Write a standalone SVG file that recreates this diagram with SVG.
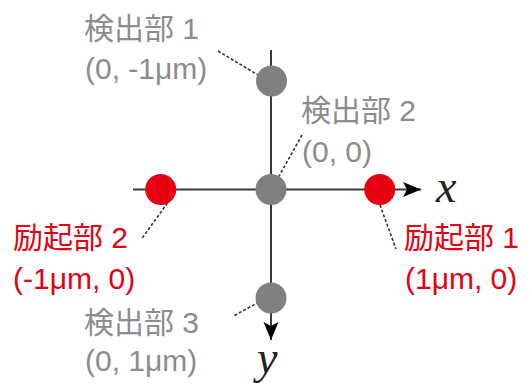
<svg xmlns="http://www.w3.org/2000/svg" width="529" height="383" viewBox="0 0 529 383">
<defs>
<style>
.axis{stroke:#3a3a3a;stroke-width:2;fill:none}
.lead{stroke:#333;stroke-width:1.6;stroke-dasharray:3 2;fill:none}
.det{fill:#808080}
.exc{fill:#e60012}
.tg{font-family:"Liberation Sans","Noto Sans CJK JP",sans-serif;font-size:30px;fill:#8c8c8c}
.tr{font-family:"Liberation Sans","Noto Sans CJK JP",sans-serif;font-size:30px;fill:#e60012}
.ax{font-family:"Liberation Serif",serif;font-style:italic;font-size:46px;fill:#222}
</style>
<marker id="arr" markerUnits="userSpaceOnUse" markerWidth="20" markerHeight="16" viewBox="0 0 20 16" refX="18" refY="8" orient="auto">
<path d="M0,0.5 L18,8 L0,15.5 L4,8 z" fill="#000"/>
</marker>
</defs>
<g id="connectors">
<line class="axis" x1="133" y1="189.5" x2="421" y2="189.5" marker-end="url(#arr)"/>
<line class="axis" x1="271" y1="50" x2="271" y2="340" marker-end="url(#arr)"/>
<line class="lead" x1="218" y1="51" x2="258" y2="75"/>
<line class="lead" x1="302" y1="135" x2="278" y2="178"/>
<line class="lead" x1="167.5" y1="203" x2="141.5" y2="239"/>
<line class="lead" x1="380" y1="205" x2="396" y2="249"/>
<line class="lead" x1="259" y1="302" x2="233.5" y2="316"/>
</g>
<g id="axis-x"><text class="ax" x="436" y="202">x</text></g>
<g id="axis-y"><text class="ax" x="257" y="373">y</text></g>
<g id="det1">
<circle class="det" cx="271.5" cy="81" r="15.5"/>
<text class="tg" x="84" y="39">検出部 1</text>
<text class="tg" x="85" y="79">(0, -1μm)</text>
</g>
<g id="det2">
<circle class="det" cx="271" cy="189.5" r="15.5"/>
<text class="tg" x="301" y="121">検出部 2</text>
<text class="tg" x="302" y="162">(0, 0)</text>
</g>
<g id="det3">
<circle class="det" cx="271" cy="298" r="15.5"/>
<text class="tg" x="84" y="333">検出部 3</text>
<text class="tg" x="85" y="371">(0, 1μm)</text>
</g>
<g id="exc2">
<circle class="exc" cx="160.7" cy="189.5" r="15.5"/>
<text class="tr" x="13" y="248">励起部 2</text>
<text class="tr" x="13" y="289">(-1μm, 0)</text>
</g>
<g id="exc1">
<circle class="exc" cx="379.7" cy="189.5" r="15.5"/>
<text class="tr" x="404" y="248">励起部 1</text>
<text class="tr" x="405" y="289">(1μm, 0)</text>
</g>
</svg>
